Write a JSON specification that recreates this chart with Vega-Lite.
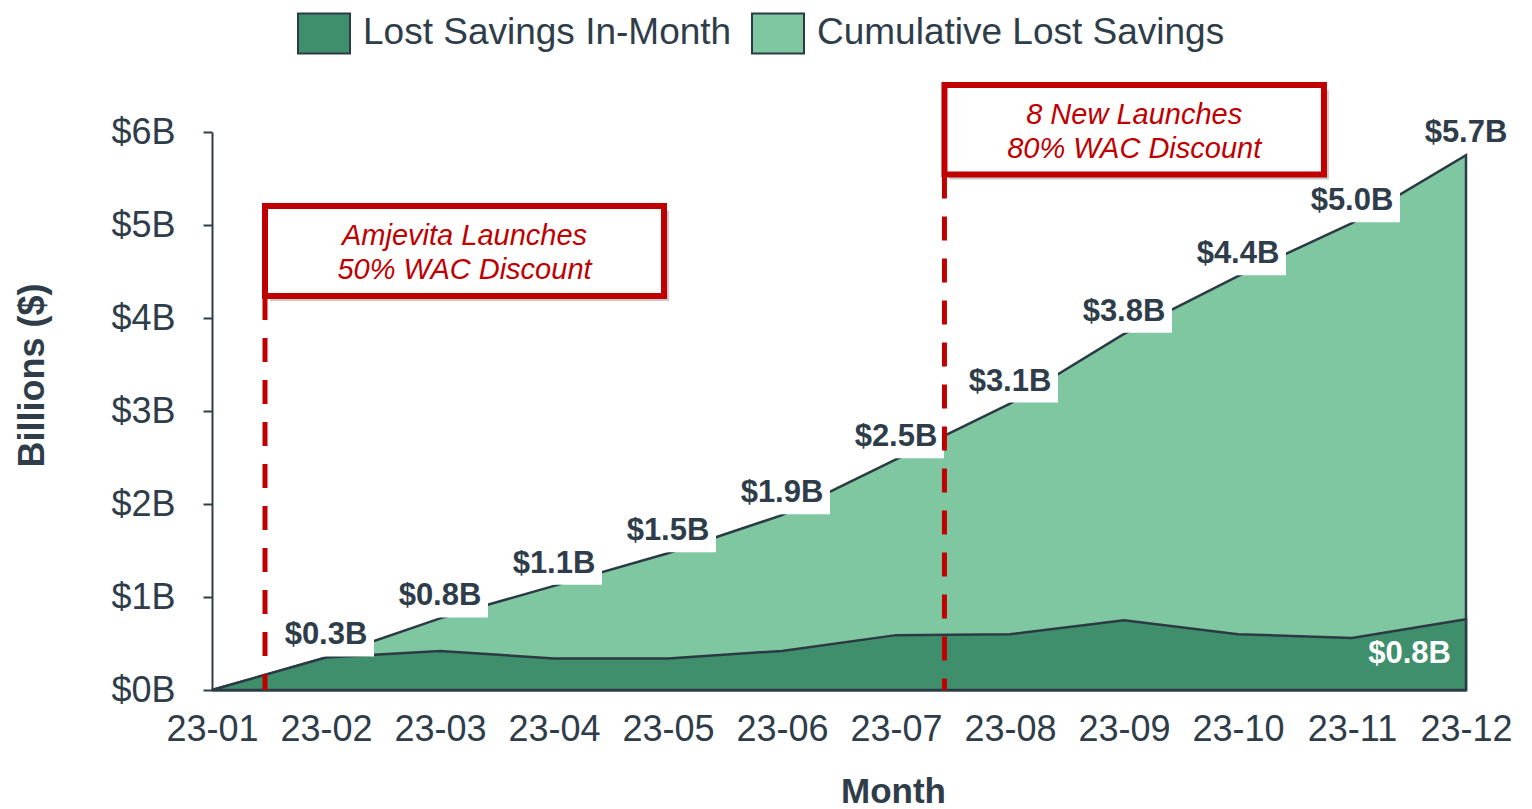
{
  "$schema": "https://vega.github.io/schema/vega-lite/v6.json",
  "width": 1254,
  "height": 558,
  "autosize": {"type": "none"},
  "padding": {"left": 212, "top": 132, "right": 66, "bottom": 119},
  "background": "white",
  "config": {
    "font": "Liberation Sans",
    "view": {"stroke": null},
    "axis": {"grid": false}
  },
  "datasets": {
    "months": [
      {"m": 1, "month": "23-01", "inMonth": 0, "cumulative": 0, "label": ""},
      {"m": 2, "month": "23-02", "inMonth": 0.35, "cumulative": 0.35, "label": "$0.3B"},
      {"m": 3, "month": "23-03", "inMonth": 0.42, "cumulative": 0.77, "label": "$0.8B"},
      {"m": 4, "month": "23-04", "inMonth": 0.34, "cumulative": 1.12, "label": "$1.1B"},
      {"m": 5, "month": "23-05", "inMonth": 0.34, "cumulative": 1.47, "label": "$1.5B"},
      {"m": 6, "month": "23-06", "inMonth": 0.42, "cumulative": 1.88, "label": "$1.9B"},
      {"m": 7, "month": "23-07", "inMonth": 0.59, "cumulative": 2.48, "label": "$2.5B"},
      {"m": 8, "month": "23-08", "inMonth": 0.6, "cumulative": 3.08, "label": "$3.1B"},
      {"m": 9, "month": "23-09", "inMonth": 0.75, "cumulative": 3.83, "label": "$3.8B"},
      {"m": 10, "month": "23-10", "inMonth": 0.6, "cumulative": 4.45, "label": "$4.4B"},
      {"m": 11, "month": "23-11", "inMonth": 0.56, "cumulative": 5.02, "label": "$5.0B"},
      {"m": 12, "month": "23-12", "inMonth": 0.76, "cumulative": 5.75, "label": "$5.7B"}
    ],
    "notes": [
      {"x": 1.465, "x2": 4.965, "y": 5.204, "y2": 4.237, "text": ["Amjevita Launches", "50% WAC Discount"]},
      {"x": 7.425, "x2": 10.754, "y": 6.505, "y2": 5.543, "text": ["8 New Launches", "80% WAC Discount"]}
    ]
  },
  "layer": [
    {
      "data": {"name": "months"},
      "mark": {"type": "area", "stroke": "#2b3a44", "strokeWidth": 2.5, "opacity": 1, "line": false},
      "encoding": {
        "x": {
          "field": "m", "type": "quantitative",
          "scale": {"domain": [1, 12], "nice": false, "zero": false},
          "axis": {
            "title": "Month",
            "values": [1, 2, 3, 4, 5, 6, 7, 8, 9, 10, 11, 12],
            "labelExpr": "'23-' + (datum.value < 10 ? '0' : '') + datum.value",
            "labelFontSize": 36, "labelColor": "#2e3d49", "labelPadding": 22,
            "labelFlush": false, "labelOverlap": false, "labelBound": false,
            "ticks": false,
            "domainColor": "#2e3d49", "domainWidth": 2,
            "titleFontSize": 35, "titleFontWeight": "bold", "titleColor": "#2e3d49",
            "titleX": 681, "titleY": 101, "titleBaseline": "middle", "titleAlign": "center"
          }
        },
        "y": {
          "field": "cumulative", "type": "quantitative", "stack": null,
          "scale": {"domain": [0, 6], "nice": false},
          "axis": {
            "title": "Billions ($)",
            "values": [0, 1, 2, 3, 4, 5, 6],
            "labelExpr": "'$' + datum.value + 'B'",
            "labelFontSize": 36, "labelColor": "#2e3d49", "labelPadding": 28,
            "labelFlush": false, "labelOverlap": false, "labelBound": false,
            "tickSize": 9, "tickColor": "#2e3d49", "tickWidth": 2,
            "domainColor": "#2e3d49", "domainWidth": 2,
            "titleFontSize": 36, "titleFontWeight": "bold", "titleColor": "#2e3d49",
            "titleX": -180, "titleY": 243, "titleAngle": -90, "titleBaseline": "middle", "titleAlign": "center"
          }
        },
        "color": {
          "datum": "Cumulative Lost Savings",
          "type": "nominal",
          "scale": {
            "domain": ["Lost Savings In-Month", "Cumulative Lost Savings"],
            "range": ["#408f6c", "#7fc7a0"]
          },
          "legend": {
            "title": null,
            "orient": "none",
            "legendX": 85,
            "legendY": -126,
            "direction": "horizontal",
            "padding": 0,
            "symbolType": "M-1,-0.77H1V0.77H-1Z",
            "symbolSize": 2704,
            "symbolStrokeColor": "#2e3d49",
            "symbolStrokeWidth": 2,
            "symbolOpacity": 1,
            "labelFontSize": 37,
            "labelColor": "#2e3d49",
            "labelOffset": 12,
            "labelLimit": 0,
            "columnPadding": 16
          }
        }
      }
    },
    {
      "data": {"name": "months"},
      "mark": {"type": "area", "stroke": "#2b3a44", "strokeWidth": 2.5, "opacity": 1, "line": false},
      "encoding": {
        "x": {"field": "m", "type": "quantitative"},
        "y": {"field": "inMonth", "type": "quantitative", "stack": null},
        "color": {"datum": "Lost Savings In-Month", "type": "nominal"}
      }
    },
    {
      "data": {"name": "months"},
      "transform": [{"filter": "datum.m > 1 && datum.m < 12"}],
      "mark": {"type": "point", "shape": "M-0.96,-0.4H0.96V0.4H-0.96Z", "size": 10000, "filled": true, "color": "white", "opacity": 1, "strokeWidth": 0, "yOffset": -21},
      "encoding": {
        "x": {"field": "m", "type": "quantitative"},
        "y": {"field": "cumulative", "type": "quantitative"}
      }
    },
    {
      "data": {"name": "months"},
      "transform": [{"filter": "datum.label != ''"}],
      "mark": {"type": "text", "fontSize": 31, "fontWeight": "bold", "color": "#2e3d49", "baseline": "middle", "align": "center", "dy": -22},
      "encoding": {
        "x": {"field": "m", "type": "quantitative"},
        "y": {"field": "cumulative", "type": "quantitative"},
        "text": {"field": "label", "type": "nominal"}
      }
    },
    {
      "data": {"name": "months"},
      "transform": [{"filter": "datum.m == 12"}],
      "mark": {"type": "text", "fontSize": 31, "fontWeight": "bold", "color": "white", "baseline": "middle", "align": "right", "dx": -15, "dy": 35, "text": "$0.8B"},
      "encoding": {
        "x": {"field": "m", "type": "quantitative"},
        "y": {"field": "inMonth", "type": "quantitative"}
      }
    },
    {
      "data": {"name": "notes"},
      "mark": {"type": "rule", "color": "#c00000", "strokeWidth": 5, "strokeDash": [24, 18]},
      "encoding": {
        "x": {"field": "x", "type": "quantitative"},
        "y": {"field": "y2", "type": "quantitative"},
        "y2": {"datum": 0}
      }
    },
    {
      "data": {"name": "notes"},
      "mark": {"type": "rect", "fill": "#8a8a8a", "opacity": 0.45, "xOffset": 5, "x2Offset": 5, "yOffset": 5, "y2Offset": 5},
      "encoding": {
        "x": {"field": "x", "type": "quantitative"},
        "x2": {"field": "x2"},
        "y": {"field": "y", "type": "quantitative"},
        "y2": {"field": "y2"}
      }
    },
    {
      "data": {"name": "notes"},
      "mark": {"type": "rect", "fill": "white", "stroke": "#c00000", "strokeWidth": 6, "opacity": 1},
      "encoding": {
        "x": {"field": "x", "type": "quantitative"},
        "x2": {"field": "x2"},
        "y": {"field": "y", "type": "quantitative"},
        "y2": {"field": "y2"}
      }
    },
    {
      "data": {"name": "notes"},
      "transform": [
        {"calculate": "(datum.x + datum.x2) / 2", "as": "cx"},
        {"calculate": "(datum.y + datum.y2) / 2", "as": "cy"}
      ],
      "mark": {"type": "text", "fontSize": 29, "fontStyle": "italic", "color": "#c00000", "baseline": "middle", "align": "center", "lineHeight": 34, "dy": -15},
      "encoding": {
        "x": {"field": "cx", "type": "quantitative"},
        "y": {"field": "cy", "type": "quantitative"},
        "text": {"field": "text", "type": "nominal"}
      }
    }
  ]
}
